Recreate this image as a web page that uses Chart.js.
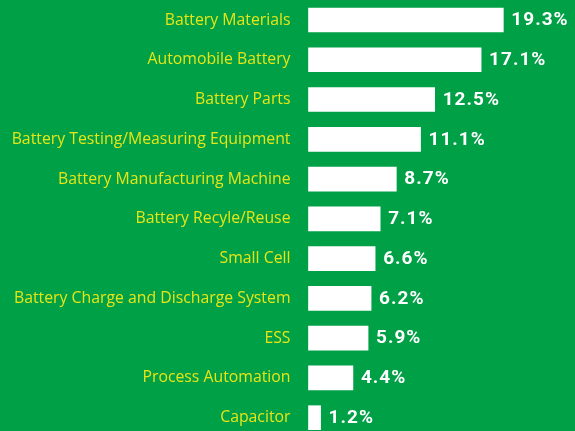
<!DOCTYPE html>
<html>
<head>
<meta charset="utf-8">
<script src="https://cdn.jsdelivr.net/npm/chart.js@4/dist/chart.umd.min.js"></script>
<style>
  html, body { margin: 0; padding: 0; background: #00A046; }
  #wrap { width: 575px; height: 431px; position: relative; }
</style>
</head>
<body>
<div id="wrap"><canvas id="c"></canvas></div>
<script>
const categories = [
  "Battery Materials",
  "Automobile Battery",
  "Battery Parts",
  "Battery Testing/Measuring Equipment",
  "Battery Manufacturing Machine",
  "Battery Recyle/Reuse",
  "Small Cell",
  "Battery Charge and Discharge System",
  "ESS",
  "Process Automation",
  "Capacitor"
];
const shares = [19.3, 17.1, 12.5, 11.1, 8.7, 7.1, 6.6, 6.2, 5.9, 4.4, 1.2];

const valueLabels = {
  id: 'valueLabels',
  afterDatasetsDraw(chart) {
    const ctx = chart.ctx;
    const meta = chart.getDatasetMeta(0);
    ctx.save();
    ctx.fillStyle = '#FFFFFF';
    ctx.font = 'bold 19px Roboto';
    if ('letterSpacing' in ctx) ctx.letterSpacing = '1px';
    ctx.textAlign = 'left';
    ctx.textBaseline = 'middle';
    meta.data.forEach((bar, i) => {
      ctx.fillText(shares[i].toFixed(1) + '%', bar.x + 8, bar.y + 0.5);
    });
    ctx.restore();
  }
};

new Chart(document.getElementById('c'), {
  type: 'bar',
  data: {
    labels: categories,
    datasets: [{
      data: shares,
      backgroundColor: '#FFFFFF',
      borderWidth: 0,
      barThickness: 24,
      clip: false
    }]
  },
  options: {
    indexAxis: 'y',
    responsive: true,
    maintainAspectRatio: false,
    animation: false,
    layout: { padding: { top: 20, bottom: 13.3, left: 0, right: 0 } },
    plugins: {
      legend: { display: false },
      tooltip: { enabled: false }
    },
    scales: {
      x: {
        display: false,
        min: 0,
        max: 26.4
      },
      y: {
        offset: false,
        grid: { display: false, drawTicks: false },
        border: { display: false },
        ticks: {
          color: '#E6E617',
          font: { family: 'Open Sans', size: 15.8 },
          padding: 18
        },
        afterFit(scale) {
          scale.width = 308.5;
          scale.paddingTop = 0;
          scale.paddingBottom = 0;
        }
      }
    }
  },
  plugins: [valueLabels]
});
</script>
</body>
</html>
